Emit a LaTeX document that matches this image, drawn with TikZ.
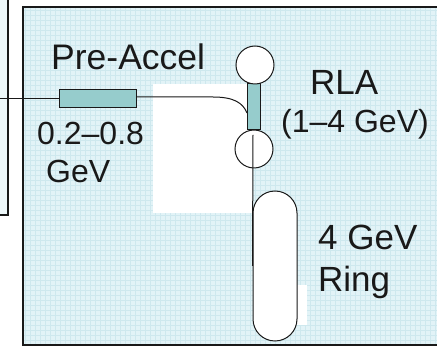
\documentclass[tikz,border=0pt]{standalone}
\usepackage{fontspec}
\setmainfont{Liberation Sans}
\begin{document}
\definecolor{paper}{RGB}{226,243,247}
\definecolor{gridline}{RGB}{206,232,238}
\definecolor{cavity}{RGB}{150,204,204}
\definecolor{ink}{RGB}{25,25,25}
\tikzset{
  frame/.style={draw=ink, line width=1.4pt},
  wire/.style={draw=ink, line width=1pt},
  linac/.style={draw=ink, line width=1pt, fill=cavity, inner sep=0pt},
  arc/.style={draw=ink, line width=1pt, fill=white, circle, inner sep=0pt, minimum size=38pt},
  lbl/.style={text=ink, inner sep=0pt, font=\fontsize{33}{36}\selectfont},
}
\begin{tikzpicture}[x=1pt, y=-1pt]
\useasboundingbox (0,0) rectangle (437,347);
% neighbouring panel on the left
\fill[white] (0,0) rectangle (437,347);
\draw[frame, fill=paper!60!white] (-5,-5) rectangle (8,215);
% main panel with graph-paper background
\fill[paper] (23,7) rectangle (445,345);
\begin{scope}
  \clip (23,7) rectangle (445,345);
  \draw[gridline, line width=0.5pt, step=5pt] (23,7) grid (445,345);
  \fill[white] (153,84) rectangle (253,213);
  \fill[white] (297,285) rectangle (307,325);
\end{scope}
\draw[frame] (23,7) rectangle (445,345);

% beamline elements
\node[linac, minimum width=77pt, minimum height=18pt] (pre) at (97.5,99) {};
\node[linac, minimum width=13pt, minimum height=46pt] (rla) at (254,107) {};
\node[arc] (arctop) at (255,65) {};
\node[arc] (arcbot) at (254,149) {};
\node[draw=ink, line width=1pt, fill=white, rounded corners=22pt,
      minimum width=44pt, minimum height=150pt, inner sep=0pt] (ring) at (275,266) {};

% connections
\coordinate (feed) at (0,99);
\coordinate (bend) at (213,97);
\coordinate (tap) at (253,135);
\draw[wire] (feed) -- (pre.west);
\draw[wire] (pre.east |- bend) -- (bend)
  .. controls (234,97) and (243,103) .. (rla.west |- 0,113);
\draw[wire] (tap) -- (ring.west);

% labels
\node[lbl, anchor=base west, font=\fontsize{35.5}{38}\selectfont] (lpre) at (51,70) {Pre-Accel};
\node[lbl, anchor=base west, font=\fontsize{32}{36}\selectfont] (lpe1) at (37,145) {0.2–0.8};
\node[lbl, anchor=base west, font=\fontsize{32}{36}\selectfont] (lpe2) at (46,183) {GeV};
\node[lbl, anchor=base west, font=\fontsize{35}{38}\selectfont] (lrla1) at (310,95) {RLA};
\node[lbl, anchor=base west, font=\fontsize{32}{36}\selectfont] (lrla2) at (281,133) {(1–4 GeV)};
\node[lbl, anchor=base west, font=\fontsize{35}{38}\selectfont] (lring1) at (318,250) {4 GeV};
\node[lbl, anchor=base west, font=\fontsize{35}{38}\selectfont] (lring2) at (318,292) {Ring};
\end{tikzpicture}
\end{document}
